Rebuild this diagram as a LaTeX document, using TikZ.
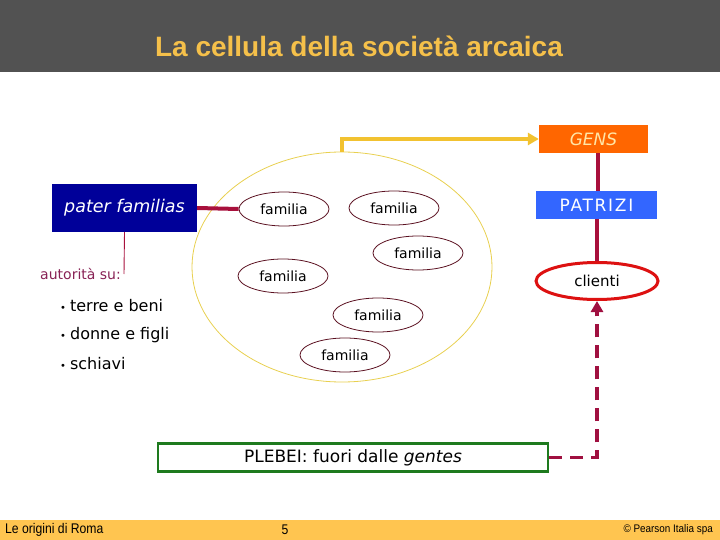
\documentclass[tikz,border=0pt]{standalone}
\usepackage{fontspec}
\usepackage{graphicx}
\setmainfont{DejaVu Sans}
\newfontfamily\titlefont{Liberation Sans}
\usetikzlibrary{shapes.geometric,arrows.meta}
\definecolor{topbar}{HTML}{525252}
\definecolor{titlecol}{HTML}{F5C04A}
\definecolor{footbar}{HTML}{FFC550}
\definecolor{navy}{HTML}{000099}
\definecolor{crimson}{HTML}{A8103C}
\definecolor{maroon}{HTML}{5A1020}
\definecolor{cellyellow}{HTML}{E8D050}
\definecolor{arrowyellow}{HTML}{F2C230}
\definecolor{gensorange}{HTML}{FF6600}
\definecolor{gensText}{HTML}{FFE6A8}
\definecolor{patblue}{HTML}{3366FF}
\definecolor{clired}{HTML}{DD1111}
\definecolor{plgreen}{HTML}{1E7A1E}
\definecolor{autcol}{HTML}{882255}
\definecolor{dashcol}{HTML}{A01040}
\begin{document}
\begin{tikzpicture}[x=1pt,y=-1pt,
  fam/.style={ellipse, draw=maroon, line width=0.8pt, minimum width=90pt, minimum height=34pt, inner sep=0pt, font=\fontsize{14}{16}\selectfont},
  bul/.style={anchor=west, font=\fontsize{16}{18}\selectfont, inner sep=0pt},
  thickcon/.style={crimson, line width=3.5pt}
]
\useasboundingbox (0,0) rectangle (720,540);
% bars
\fill[topbar] (0,0) rectangle (720,72);
\node[font=\titlefont\bfseries\fontsize{28}{30}\selectfont, text=titlecol] (title) at (359,46) {La cellula della società arcaica};
\fill[footbar] (0,520) rectangle (720,540);
\node[anchor=west, inner sep=0pt, font=\titlefont\fontsize{14}{16}\selectfont] (f1) at (5,530) {\scalebox{0.87}[1]{Le origini di Roma}};
\node[inner sep=0pt, font=\titlefont\fontsize{14}{16}\selectfont] (f2) at (285,530) {\scalebox{0.87}[1]{5}};
\node[anchor=east, inner sep=0pt, font=\titlefont\fontsize{11}{13}\selectfont] (f3) at (713,530) {\scalebox{0.9}[1]{© Pearson Italia spa}};

% big cell
\node[ellipse, draw=cellyellow, line width=0.8pt, minimum width=300pt, minimum height=230pt, inner sep=0pt] (cell) at (342,267) {};

% pater familias
\node[fill=navy, text=white, minimum width=145pt, minimum height=48pt, inner sep=0pt, font=\itshape\fontsize{17.5}{19}\selectfont] (pater) at (124.5,208) {pater familias};

% familia ellipses
\node[fam] (fa1) at (284,209) {familia};
\node[fam] (fa2) at (394,208) {familia};
\node[fam] (fa3) at (418,253) {familia};
\node[fam] (fa4) at (283,276) {familia};
\node[fam] (fa5) at (378,315) {familia};
\node[fam] (fa6) at (345,355) {familia};

\draw[thickcon, line width=4pt] (pater.east) -- (fa1.west);

% autorità
\node[anchor=east, inner sep=0pt, text=autcol, font=\fontsize{14}{16}\selectfont] (aut) at (121,274) {autorità su:};
\coordinate (autend) at (124,274);
\draw[crimson, line width=0.9pt] (pater.south) -- (autend);
\node[bul] (b1) at (60,306) {{\fontsize{10}{10}\selectfont•}\hspace{4pt}terre e beni};
\node[bul] (b2) at (60,335) {{\fontsize{10}{10}\selectfont•}\hspace{4pt}donne e figli};
\node[bul] (b3) at (60,364) {{\fontsize{10}{10}\selectfont•}\hspace{4pt}schiavi};

% right column
\node[fill=gensorange, text=gensText, minimum width=109pt, minimum height=28pt, inner sep=0pt, font=\itshape\fontsize{17}{18}\selectfont] (gens) at (593.5,139) {GENS};
\node[fill=patblue, text=white, minimum width=121pt, minimum height=28pt, inner sep=0pt, font=\addfontfeature{LetterSpace=10}\fontsize{17}{18}\selectfont] (patr) at (596.5,205) {PATRIZI};
\node[ellipse, draw=clired, line width=3pt, minimum width=122pt, minimum height=37pt, inner sep=0pt, font=\fontsize{15}{17}\selectfont] (cli) at (597,281) {clienti};

\draw[thickcon] (gens.south -| 598,0) -- (patr.north -| 598,0);
\draw[thickcon] (patr.south -| 597,0) -- (cli.north);

\draw[arrowyellow, line width=3.2pt, -{Triangle[length=11pt,width=12pt]}] (cell.north) |- (gens.west);

% plebei
\node[draw=plgreen, line width=2.5pt, minimum width=390pt, minimum height=28pt, inner sep=0pt, font=\fontsize{17}{19}\selectfont] (pleb) at (353,457.5) {PLEBEI: fuori dalle \textit{gentes}};
\draw[dashcol, line width=3.5pt, dash pattern=on 13pt off 8pt, -{Triangle[length=11pt,width=12pt]}] (pleb.east) -| (cli.south);
\end{tikzpicture}
\end{document}
